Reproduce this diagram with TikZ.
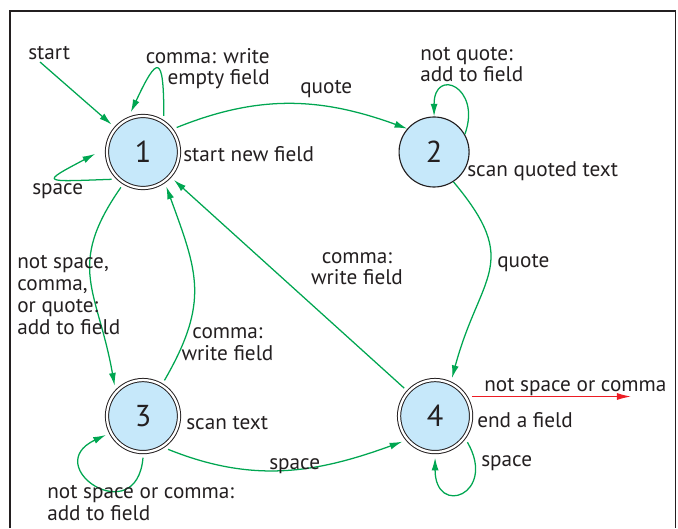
\documentclass[tikz,border=0pt]{standalone}
\usepackage{fontspec}
\setmainfont{PT Sans}
\usetikzlibrary{positioning,arrows.meta}
\definecolor{statefill}{RGB}{198,232,250}
\definecolor{edgegreen}{RGB}{0,166,81}
\definecolor{exitred}{RGB}{237,28,36}
\definecolor{inkgray}{RGB}{35,31,32}

\begin{document}
\begin{tikzpicture}[x=0.025cm, y=0.025cm]
			\tikzset{
			  VertexStyle/.style = { circle, draw=inkgray, fill=statefill, text=inkgray,
			                         line width=0.8pt, minimum size=1.75cm, inner sep=0pt,
			                         font=\fontsize{21.5}{22}\selectfont },
			  DoubleStyle/.style = { VertexStyle, double=white, double distance=1.6pt,
			                         line width=0.7pt, minimum size=1.8cm, outer sep=4pt },
			  LabelStyle/.style = { font=\fontsize{15.1}{15.6}\selectfont, text=inkgray, inner sep=0pt },
			  EdgeStyle/.style = { draw=edgegreen, line width=0.9pt, -{Latex[length=9pt,width=5pt]} },
			  ExitStyle/.style = { EdgeStyle, draw=exitred, -{Latex[length=10pt,width=5pt]} } }
			\useasboundingbox (0,0) rectangle (678,528);
			\draw[inkgray, line width=0.8pt] (10,0) |- (675.5,517) -- (675.5,0);
			% states
			\node[DoubleStyle] (n1) at (143,376) {1};
			\node[VertexStyle, on grid, right=7.275cm of n1] (n2) {2};
			\node[DoubleStyle, on grid, below=6.6cm of n1] (n3) {3};
			\node[DoubleStyle, on grid, right=7.3cm of n3] (n4) {4};
			\node[LabelStyle, anchor=base west] (d1) at (183,366) {start new field};
			\node[LabelStyle, anchor=base west] (d2) at (467,351) {scan quoted text};
			\node[LabelStyle, anchor=base west] (d3) at (186,99) {scan text};
			\node[LabelStyle, anchor=base west] (d4) at (477,101) {end a field};
			% transitions
			\coordinate (entry) at (40,466);
			\coordinate (exit) at (631,130);
			\draw[EdgeStyle] (entry) -- (n1);
			\draw[EdgeStyle] (n1.60) to[out=90, in=65, distance=1.57cm] (n1.107);
			\draw[EdgeStyle, shorten >=5pt] (n1.-139) to[out=182, in=208, distance=1.75cm] (n1.178);
			\draw[EdgeStyle] (n1.36) to[out=22, in=160] (n2.139);
			\draw[EdgeStyle] (n2.30) to[out=70, in=90, distance=1.25cm] (n2.90);
			\draw[EdgeStyle] (n2.-57) to[out=-50, in=75, looseness=1.4] (n4.66);
			\draw[EdgeStyle] (n1.-122) to[out=-125, in=100, looseness=1.25] (n3.133);
			\draw[EdgeStyle] (n3.59) to[out=60, in=-70, looseness=1.2] (n1.-56);
			\draw[EdgeStyle] (n4) -- (n1);
			\draw[EdgeStyle] (n3.-53) to[out=-22, in=200] (n4.-142);
			\draw[EdgeStyle] (n3.-90) to[out=-95, in=205, distance=1.85cm] (n3.-153);
			\draw[EdgeStyle] (n4.-39) to[out=-60, in=-90, distance=1.5cm] (n4.-90);
			\draw[ExitStyle] (n4.28) -- (n4.28 -| exit);
			% transition labels (base = last line)
			\node[LabelStyle, anchor=base west] (l0) at (28,468) {start};
			\node[LabelStyle, anchor=base east, align=right] (l1) at (270,443) {comma: write\\empty field};
			\node[LabelStyle, anchor=base west] (l2) at (32,333) {space};
			\node[LabelStyle, anchor=base west] (l3) at (300,434) {quote};
			\node[LabelStyle, anchor=base west, align=left] (l4) at (420,446) {not quote:\\add to field};
			\node[LabelStyle, anchor=base west] (l5) at (497,261) {quote};
			\node[LabelStyle, anchor=base west, align=left] (l6) at (17,194) {not space,\\comma,\\or quote:\\add to field};
			\node[LabelStyle, anchor=base, align=center] (l7) at (227.5,168) {comma:\\write field};
			\node[LabelStyle, anchor=base, align=center] (l8) at (357,243) {comma:\\write field};
			\node[LabelStyle, anchor=base west] (l9) at (269,59) {space};
			\node[LabelStyle, anchor=base west, align=left] (l10) at (47,8) {not space or comma:\\add to field};
			\node[LabelStyle, anchor=base west] (l11) at (481,62) {space};
			\node[LabelStyle, anchor=base west] (l12) at (484,137) {not space or comma};
\end{tikzpicture}
\end{document}
